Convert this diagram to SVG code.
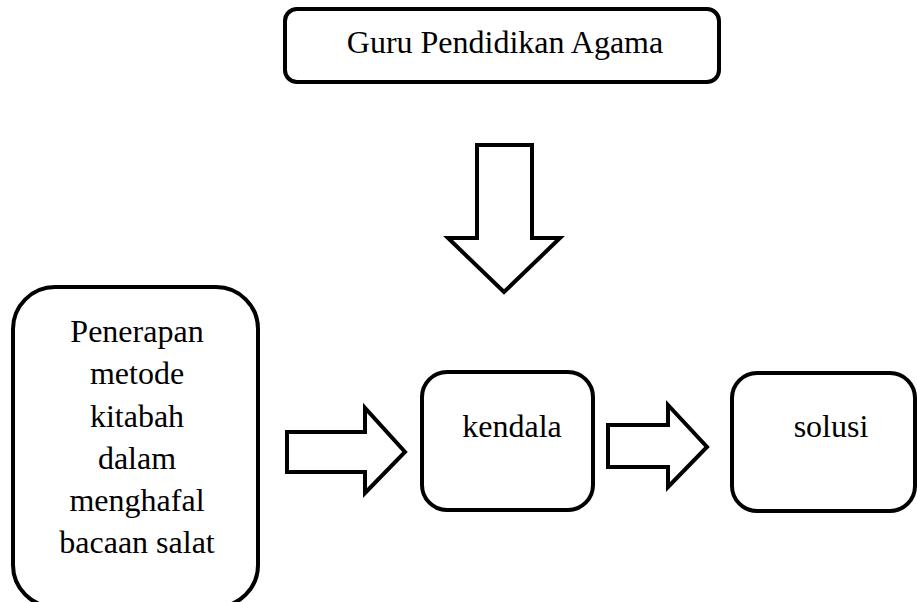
<svg xmlns="http://www.w3.org/2000/svg" width="917" height="602" viewBox="0 0 917 602">
<style>
.box{fill:#fff;stroke:#000;stroke-width:4}
.arr{fill:#fff;stroke:#000;stroke-width:4;stroke-linejoin:miter}
.t{font-family:'Liberation Serif','Times New Roman','DejaVu Serif',serif;font-size:32px;fill:#000;text-anchor:middle}
</style>
<rect width="917" height="602" fill="#fff"/>
<g id="guru">
<rect class="box" x="285" y="9" width="434" height="73" rx="12"/>
<text class="t" x="505" y="53">Guru Pendidikan Agama</text>
</g>
<g id="penerapan">
<rect class="box" x="13" y="287" width="245" height="320" rx="42"/>
<text class="t" x="137" y="342">Penerapan</text>
<text class="t" x="137" y="384">metode</text>
<text class="t" x="137" y="427">kitabah</text>
<text class="t" x="137" y="469">dalam</text>
<text class="t" x="137" y="511">menghafal</text>
<text class="t" x="137" y="553">bacaan salat</text>
</g>
<g id="kendala">
<rect class="box" x="422" y="372" width="171" height="138" rx="25"/>
<text class="t" x="512" y="437">kendala</text>
</g>
<g id="solusi">
<rect class="box" x="732" y="373" width="183" height="138" rx="25"/>
<text class="t" x="831" y="437">solusi</text>
</g>
<g id="connectors">
<polygon class="arr" points="477,145 532,145 532,238 560,238 504,292 448,238 477,238"/>
<polygon class="arr" points="287,432 365,432 365,408 405,452 365,493 365,472 287,472"/>
<polygon class="arr" points="608,425 668,425 668,405 707,447 668,487 668,467 608,467"/>
</g>
</svg>
